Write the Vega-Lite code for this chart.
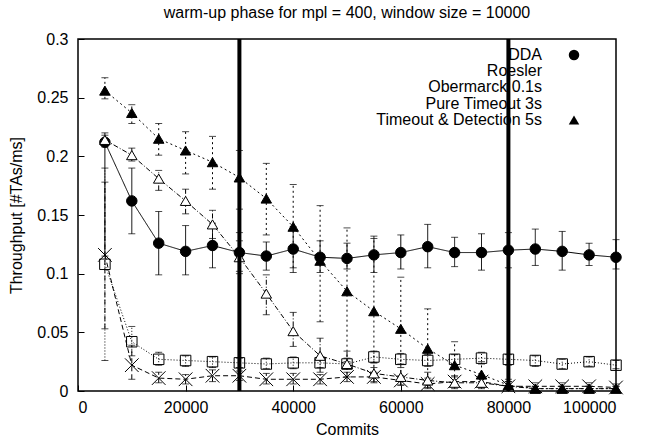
{
  "$schema": "https://vega.github.io/schema/vega-lite/v6.json",
  "width": 538,
  "height": 352,
  "padding": {"left": 8, "top": 5, "right": 5, "bottom": 5},
  "background": "white",
  "title": {"text": "warm-up phase for mpl = 400, window size = 10000", "fontSize": 16, "font": "Liberation Sans", "fontWeight": "normal", "color": "black", "offset": 10},
  "config": {
    "view": {"stroke": "black", "strokeWidth": 1.5},
    "font": "Liberation Sans",
    "axis": {"domain": false, "grid": false, "labelFont": "Liberation Sans", "labelFontSize": 16, "labelColor": "black", "titleFont": "Liberation Sans", "titleFontSize": 16, "titleFontWeight": "normal", "titleColor": "black", "tickColor": "black", "tickSize": -6, "tickWidth": 1}
  },
  "datasets": {
    "perf": [
      {"series": "DDA", "commits": 5000, "tp": 0.212, "lo": 0.115, "hi": 0.218},
      {"series": "DDA", "commits": 10000, "tp": 0.162, "lo": 0.134, "hi": 0.19},
      {"series": "DDA", "commits": 15000, "tp": 0.126, "lo": 0.099, "hi": 0.153},
      {"series": "DDA", "commits": 20000, "tp": 0.119, "lo": 0.099, "hi": 0.141},
      {"series": "DDA", "commits": 25000, "tp": 0.124, "lo": 0.105, "hi": 0.143},
      {"series": "DDA", "commits": 30000, "tp": 0.118, "lo": 0.102, "hi": 0.135},
      {"series": "DDA", "commits": 35000, "tp": 0.115, "lo": 0.103, "hi": 0.127},
      {"series": "DDA", "commits": 40000, "tp": 0.121, "lo": 0.101, "hi": 0.14},
      {"series": "DDA", "commits": 45000, "tp": 0.114, "lo": 0.101, "hi": 0.128},
      {"series": "DDA", "commits": 50000, "tp": 0.113, "lo": 0.104, "hi": 0.126},
      {"series": "DDA", "commits": 55000, "tp": 0.116, "lo": 0.101, "hi": 0.132},
      {"series": "DDA", "commits": 60000, "tp": 0.118, "lo": 0.104, "hi": 0.133},
      {"series": "DDA", "commits": 65000, "tp": 0.123, "lo": 0.105, "hi": 0.142},
      {"series": "DDA", "commits": 70000, "tp": 0.118, "lo": 0.106, "hi": 0.131},
      {"series": "DDA", "commits": 75000, "tp": 0.118, "lo": 0.103, "hi": 0.134},
      {"series": "DDA", "commits": 80000, "tp": 0.12, "lo": 0.105, "hi": 0.135},
      {"series": "DDA", "commits": 85000, "tp": 0.121, "lo": 0.107, "hi": 0.138},
      {"series": "DDA", "commits": 90000, "tp": 0.119, "lo": 0.103, "hi": 0.136},
      {"series": "DDA", "commits": 95000, "tp": 0.116, "lo": 0.107, "hi": 0.126},
      {"series": "DDA", "commits": 100000, "tp": 0.114, "lo": 0.104, "hi": 0.129},
      {"series": "Roesler", "commits": 5000, "tp": 0.108, "lo": 0.026, "hi": 0.19},
      {"series": "Roesler", "commits": 10000, "tp": 0.042, "lo": 0.03, "hi": 0.055},
      {"series": "Roesler", "commits": 15000, "tp": 0.027, "lo": 0.022, "hi": 0.033},
      {"series": "Roesler", "commits": 20000, "tp": 0.026, "lo": 0.021, "hi": 0.03},
      {"series": "Roesler", "commits": 25000, "tp": 0.025, "lo": 0.02, "hi": 0.029},
      {"series": "Roesler", "commits": 30000, "tp": 0.024, "lo": 0.02, "hi": 0.028},
      {"series": "Roesler", "commits": 35000, "tp": 0.023, "lo": 0.019, "hi": 0.028},
      {"series": "Roesler", "commits": 40000, "tp": 0.024, "lo": 0.019, "hi": 0.029},
      {"series": "Roesler", "commits": 45000, "tp": 0.024, "lo": 0.02, "hi": 0.029},
      {"series": "Roesler", "commits": 50000, "tp": 0.023, "lo": 0.019, "hi": 0.028},
      {"series": "Roesler", "commits": 55000, "tp": 0.029, "lo": 0.024, "hi": 0.034},
      {"series": "Roesler", "commits": 60000, "tp": 0.027, "lo": 0.023, "hi": 0.032},
      {"series": "Roesler", "commits": 65000, "tp": 0.026, "lo": 0.021, "hi": 0.031},
      {"series": "Roesler", "commits": 70000, "tp": 0.027, "lo": 0.022, "hi": 0.031},
      {"series": "Roesler", "commits": 75000, "tp": 0.028, "lo": 0.023, "hi": 0.033},
      {"series": "Roesler", "commits": 80000, "tp": 0.027, "lo": 0.022, "hi": 0.031},
      {"series": "Roesler", "commits": 85000, "tp": 0.026, "lo": 0.021, "hi": 0.03},
      {"series": "Roesler", "commits": 90000, "tp": 0.023, "lo": 0.019, "hi": 0.027},
      {"series": "Roesler", "commits": 95000, "tp": 0.025, "lo": 0.021, "hi": 0.029},
      {"series": "Roesler", "commits": 100000, "tp": 0.022, "lo": 0.019, "hi": 0.026},
      {"series": "Obermarck 0.1s", "commits": 5000, "tp": 0.116, "lo": 0.053, "hi": 0.178},
      {"series": "Obermarck 0.1s", "commits": 10000, "tp": 0.022, "lo": 0.01, "hi": 0.039},
      {"series": "Obermarck 0.1s", "commits": 15000, "tp": 0.011, "lo": 0.007, "hi": 0.016},
      {"series": "Obermarck 0.1s", "commits": 20000, "tp": 0.01, "lo": 0.006, "hi": 0.014},
      {"series": "Obermarck 0.1s", "commits": 25000, "tp": 0.013, "lo": 0.008, "hi": 0.018},
      {"series": "Obermarck 0.1s", "commits": 30000, "tp": 0.013, "lo": 0.009, "hi": 0.017},
      {"series": "Obermarck 0.1s", "commits": 35000, "tp": 0.01, "lo": 0.006, "hi": 0.015},
      {"series": "Obermarck 0.1s", "commits": 40000, "tp": 0.01, "lo": 0.006, "hi": 0.015},
      {"series": "Obermarck 0.1s", "commits": 45000, "tp": 0.01, "lo": 0.006, "hi": 0.014},
      {"series": "Obermarck 0.1s", "commits": 50000, "tp": 0.012, "lo": 0.008, "hi": 0.016},
      {"series": "Obermarck 0.1s", "commits": 55000, "tp": 0.012, "lo": 0.008, "hi": 0.016},
      {"series": "Obermarck 0.1s", "commits": 60000, "tp": 0.009, "lo": 0.005, "hi": 0.013},
      {"series": "Obermarck 0.1s", "commits": 65000, "tp": 0.006, "lo": 0.002, "hi": 0.011},
      {"series": "Obermarck 0.1s", "commits": 70000, "tp": 0.008, "lo": 0.004, "hi": 0.012},
      {"series": "Obermarck 0.1s", "commits": 75000, "tp": 0.008, "lo": 0.004, "hi": 0.012},
      {"series": "Obermarck 0.1s", "commits": 80000, "tp": 0.004, "lo": 0.001, "hi": 0.008},
      {"series": "Obermarck 0.1s", "commits": 85000, "tp": 0.004, "lo": 0.001, "hi": 0.007},
      {"series": "Obermarck 0.1s", "commits": 90000, "tp": 0.004, "lo": 0.001, "hi": 0.007},
      {"series": "Obermarck 0.1s", "commits": 95000, "tp": 0.004, "lo": 0.001, "hi": 0.007},
      {"series": "Obermarck 0.1s", "commits": 100000, "tp": 0.003, "lo": 0.001, "hi": 0.006},
      {"series": "Pure Timeout 3s", "commits": 5000, "tp": 0.214, "lo": 0.208, "hi": 0.22},
      {"series": "Pure Timeout 3s", "commits": 10000, "tp": 0.201, "lo": 0.196, "hi": 0.207},
      {"series": "Pure Timeout 3s", "commits": 15000, "tp": 0.181, "lo": 0.171, "hi": 0.188},
      {"series": "Pure Timeout 3s", "commits": 20000, "tp": 0.162, "lo": 0.151, "hi": 0.172},
      {"series": "Pure Timeout 3s", "commits": 25000, "tp": 0.142, "lo": 0.13, "hi": 0.154},
      {"series": "Pure Timeout 3s", "commits": 30000, "tp": 0.114, "lo": 0.1, "hi": 0.128},
      {"series": "Pure Timeout 3s", "commits": 35000, "tp": 0.083, "lo": 0.065, "hi": 0.099},
      {"series": "Pure Timeout 3s", "commits": 40000, "tp": 0.051, "lo": 0.038, "hi": 0.067},
      {"series": "Pure Timeout 3s", "commits": 45000, "tp": 0.03, "lo": 0.016, "hi": 0.045},
      {"series": "Pure Timeout 3s", "commits": 50000, "tp": 0.023, "lo": 0.012, "hi": 0.034},
      {"series": "Pure Timeout 3s", "commits": 55000, "tp": 0.015, "lo": 0.007, "hi": 0.024},
      {"series": "Pure Timeout 3s", "commits": 60000, "tp": 0.012, "lo": 0.005, "hi": 0.02},
      {"series": "Pure Timeout 3s", "commits": 65000, "tp": 0.009, "lo": 0.003, "hi": 0.016},
      {"series": "Pure Timeout 3s", "commits": 70000, "tp": 0.007, "lo": 0.002, "hi": 0.013},
      {"series": "Pure Timeout 3s", "commits": 75000, "tp": 0.007, "lo": 0.002, "hi": 0.013},
      {"series": "Pure Timeout 3s", "commits": 80000, "tp": 0.004, "lo": 0.001, "hi": 0.008},
      {"series": "Pure Timeout 3s", "commits": 85000, "tp": 0.002, "lo": 0.0, "hi": 0.004},
      {"series": "Pure Timeout 3s", "commits": 90000, "tp": 0.002, "lo": 0.0, "hi": 0.004},
      {"series": "Pure Timeout 3s", "commits": 95000, "tp": 0.002, "lo": 0.0, "hi": 0.004},
      {"series": "Pure Timeout 3s", "commits": 100000, "tp": 0.002, "lo": 0.0, "hi": 0.004},
      {"series": "Timeout & Detection 5s", "commits": 5000, "tp": 0.256, "lo": 0.249, "hi": 0.267},
      {"series": "Timeout & Detection 5s", "commits": 10000, "tp": 0.237, "lo": 0.228, "hi": 0.244},
      {"series": "Timeout & Detection 5s", "commits": 15000, "tp": 0.215, "lo": 0.201, "hi": 0.228},
      {"series": "Timeout & Detection 5s", "commits": 20000, "tp": 0.205, "lo": 0.185, "hi": 0.221},
      {"series": "Timeout & Detection 5s", "commits": 25000, "tp": 0.195, "lo": 0.172, "hi": 0.217},
      {"series": "Timeout & Detection 5s", "commits": 30000, "tp": 0.182, "lo": 0.155, "hi": 0.205},
      {"series": "Timeout & Detection 5s", "commits": 35000, "tp": 0.164, "lo": 0.133, "hi": 0.194},
      {"series": "Timeout & Detection 5s", "commits": 40000, "tp": 0.14, "lo": 0.105, "hi": 0.176},
      {"series": "Timeout & Detection 5s", "commits": 45000, "tp": 0.111, "lo": 0.059, "hi": 0.158},
      {"series": "Timeout & Detection 5s", "commits": 50000, "tp": 0.085, "lo": 0.025, "hi": 0.139},
      {"series": "Timeout & Detection 5s", "commits": 55000, "tp": 0.068, "lo": 0.02, "hi": 0.13},
      {"series": "Timeout & Detection 5s", "commits": 60000, "tp": 0.053, "lo": 0.012, "hi": 0.097},
      {"series": "Timeout & Detection 5s", "commits": 65000, "tp": 0.036, "lo": 0.005, "hi": 0.07},
      {"series": "Timeout & Detection 5s", "commits": 70000, "tp": 0.022, "lo": 0.004, "hi": 0.042},
      {"series": "Timeout & Detection 5s", "commits": 75000, "tp": 0.014, "lo": 0.003, "hi": 0.025},
      {"series": "Timeout & Detection 5s", "commits": 80000, "tp": 0.005, "lo": 0.001, "hi": 0.01},
      {"series": "Timeout & Detection 5s", "commits": 85000, "tp": 0.002, "lo": 0.0, "hi": 0.004},
      {"series": "Timeout & Detection 5s", "commits": 90000, "tp": 0.002, "lo": 0.0, "hi": 0.004},
      {"series": "Timeout & Detection 5s", "commits": 95000, "tp": 0.002, "lo": 0.0, "hi": 0.004},
      {"series": "Timeout & Detection 5s", "commits": 100000, "tp": 0.002, "lo": 0.0, "hi": 0.004}
    ],
    "marks": [{"commits": 30000}, {"commits": 80000}]
  },
  "layer": [
    {
      "data": {"name": "perf"},
      "mark": {"type": "rule", "color": "black", "strokeWidth": 1},
      "encoding": {
        "x": {"field": "commits", "type": "quantitative", "scale": {"domain": [0, 100000]}, "axis": {"title": "Commits", "format": "d", "values": [0, 20000, 40000, 60000, 80000, 100000], "labelPadding": 14, "titlePadding": 6}},
        "y": {"field": "lo", "type": "quantitative", "scale": {"domain": [0, 0.3]}, "axis": {"title": "Throughput [#TAs/ms]", "format": "~g", "values": [0, 0.05, 0.1, 0.15, 0.2, 0.25, 0.3], "labelPadding": 16, "titlePadding": 12}},
        "y2": {"field": "hi"},
        "strokeDash": {"field": "series", "type": "nominal", "legend": null, "scale": {"domain": ["Timeout & Detection 5s", "Pure Timeout 3s", "Obermarck 0.1s", "Roesler", "DDA"], "range": [[2, 3], [5, 2, 1, 2], [5, 3], [1, 2], [1, 0]]}}
      }
    },
    {
      "data": {"name": "perf"},
      "mark": {"type": "tick", "orient": "horizontal", "color": "black", "size": 7, "thickness": 1},
      "encoding": {
        "x": {"field": "commits", "type": "quantitative"},
        "y": {"field": "lo", "type": "quantitative"}
      }
    },
    {
      "data": {"name": "perf"},
      "mark": {"type": "tick", "orient": "horizontal", "color": "black", "size": 7, "thickness": 1},
      "encoding": {
        "x": {"field": "commits", "type": "quantitative"},
        "y": {"field": "hi", "type": "quantitative"}
      }
    },
    {
      "data": {"name": "perf"},
      "mark": {"type": "line", "color": "black", "strokeWidth": 1},
      "encoding": {
        "x": {"field": "commits", "type": "quantitative"},
        "y": {"field": "tp", "type": "quantitative"},
        "detail": {"field": "series"},
        "strokeDash": {"field": "series", "type": "nominal", "legend": null}
      }
    },
    {
      "data": {"name": "perf"},
      "mark": {"type": "point", "stroke": "black", "strokeWidth": 1, "opacity": 1, "size": 110},
      "encoding": {
        "x": {"field": "commits", "type": "quantitative"},
        "y": {"field": "tp", "type": "quantitative"},
        "shape": {
          "field": "series", "type": "nominal",
          "scale": {"domain": ["DDA", "Roesler", "Obermarck 0.1s", "Pure Timeout 3s", "Timeout & Detection 5s"], "range": ["circle", "square", "M-1.3,-1.3L1.3,1.3M-1.3,1.3L1.3,-1.3", "triangle-up", "triangle-up"]},
          "legend": {
            "title": null, "orient": "none", "legendX": 488, "legendY": 8, "padding": 0, "rowPadding": -3.5,
            "labelFontSize": 16, "labelColor": "black", "labelAlign": "right", "labelBaseline": "middle", "labelOffset": -40, "labelLimit": 0,
            "symbolSize": 110, "symbolStrokeWidth": 1, "symbolStrokeColor": "black"
          }
        },
        "fill": {"field": "series", "type": "nominal", "scale": {"domain": ["DDA", "Roesler", "Obermarck 0.1s", "Pure Timeout 3s", "Timeout & Detection 5s"], "range": ["black", "transparent", "transparent", "white", "black"]}}
      }
    },
    {
      "data": {"name": "marks"},
      "mark": {"type": "rule", "color": "black", "strokeWidth": 4},
      "encoding": {
        "x": {"field": "commits", "type": "quantitative"}
      }
    }
  ]
}
